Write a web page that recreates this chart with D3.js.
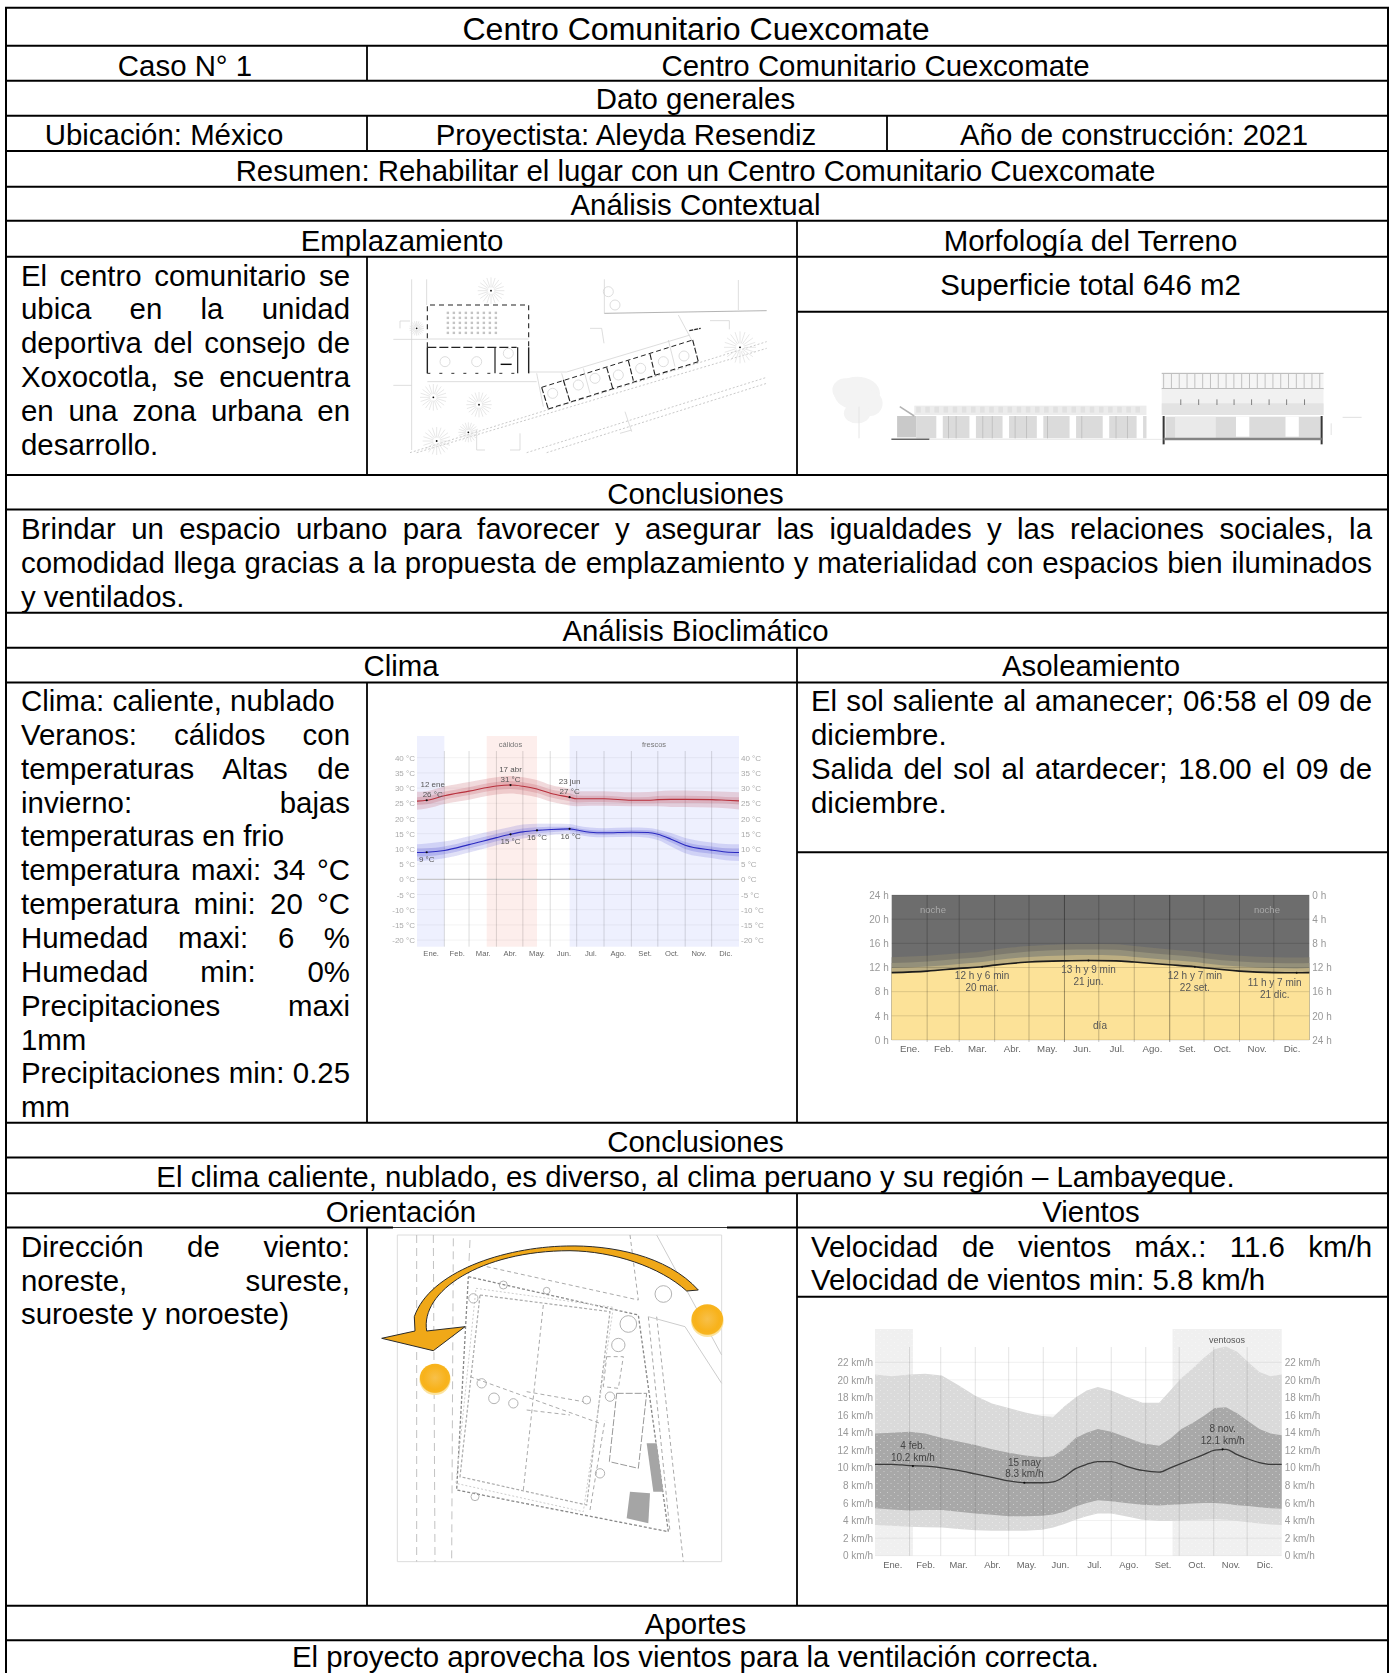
<!DOCTYPE html>
<html><head><meta charset="utf-8">
<script src="https://cdn.jsdelivr.net/npm/d3@7"></script>
<style>html,body{margin:0;padding:0;background:#fff}svg{display:block}text{font-family:"Liberation Sans",Arial,sans-serif}</style>
</head><body><svg id="c" width="1394" height="1673" viewBox="0 0 1394 1673"></svg>
<script>
// ---------- table content ----------
const rowRules=[7.7,45.7,80.7,115.7,151,186.7,220.7,256.7,475,509.5,612.7,647.7,682.5,1122.7,1157.5,1193.3,1227.5,1605.7,1640.3];
const centeredText=[
["Caso N° 1",185,75.6],["Centro Comunitario Cuexcomate",875.5,75.6],
["Dato generales",695.5,109.2],["Ubicación: México",164,145.4],["Proyectista: Aleyda Resendiz",626,145.4],["Año de construcción: 2021",1134,145.4],
["Resumen: Rehabilitar el lugar con un Centro Comunitario Cuexcomate",695.5,181],["Análisis Contextual",695.5,215],
["Emplazamiento",402,250.7],["Morfología del Terreno",1090.5,250.7],["Superficie total 646 m2",1090.5,295],
["Conclusiones",695.5,503.5],["Análisis Bioclimático",695.5,641],["Clima",401,675.7],["Asoleamiento",1091,675.7],
["Conclusiones",695.5,1152],["El clima caliente, nublado, es diverso, al clima peruano y su región – Lambayeque.",695.5,1186.7],
["Orientación",401,1221.7],["Vientos",1091,1221.7],["Aportes",695.5,1634],["El proyecto aprovecha los vientos para la ventilación correcta.",695.5,1666.5]];
const titleText="Centro Comunitario Cuexcomate";
const siteLines=[["El centro comunitario se",1],["ubica en la unidad",1],["deportiva del consejo de",1],["Xoxocotla, se encuentra",1],["en una zona urbana en",1],["desarrollo.",0]];
const conclusionLines=[["Brindar un espacio urbano para favorecer y asegurar las igualdades y las relaciones sociales, la",1],["comodidad llega gracias a la propuesta de emplazamiento y materialidad con espacios bien iluminados",1],["y ventilados.",0]];
const climateLines=[["Clima: caliente, nublado",0],["Veranos: cálidos con",1],["temperaturas Altas de",1],["invierno: bajas",1],["temperaturas en frio",0],["temperatura maxi: 34 °C",1],["temperatura mini: 20 °C",1],["Humedad maxi: 6 %",1],["Humedad min: 0%",1],["Precipitaciones maxi",1],["1mm",0],["Precipitaciones min: 0.25",1],["mm",0]];
const sunLines=[["El sol saliente al amanecer; 06:58 el 09 de",1],["diciembre.",0],["Salida del sol al atardecer; 18.00 el 09 de",1],["diciembre.",0]];
const windTextLines=[["Velocidad de vientos máx.: 11.6 km/h",1],["Velocidad de vientos min: 5.8 km/h",0]];
const directionLines=[["Dirección de viento:",1],["noreste, sureste,",1],["suroeste y noroeste)",0]];

// ---------- shared ----------
const months=["Ene.","Feb.","Mar.","Abr.","May.","Jun.","Jul.","Ago.","Set.","Oct.","Nov.","Dic."];
const monthStart=[0,31,59,90,120,151,181,212,243,273,304,334,365];
const monthMid=months.map((m,i)=>(monthStart[i]+monthStart[i+1])/2);

// ---------- temperature chart ----------
const tempDays=[0,11,31,59,90,106,120,136,152,173,181,196,212,243,262,273,288,304,334,350,365];
const highMean=[25.7,26,27.5,29,30.7,31,30.6,29.7,28.2,27,26.5,26.5,26.5,26,26,26.2,26.3,26.3,26.2,26,25.8];
const high90=[28.8,29,30.5,32,33.6,34,33.6,32.7,31,29.7,29,29,29,28.6,28.7,29,29.2,29.2,29,28.8,28.6];
const high75=[27,27.3,28.8,30.3,32,32.3,31.9,31,29.5,28.3,27.6,27.5,27.5,27,27.1,27.4,27.5,27.5,27.3,27.1,27];
const high25=[24.4,24.7,26.2,27.7,29.4,29.7,29.3,28.4,26.9,25.7,25.3,25.4,25.4,25,25,25.1,25.1,25.1,25,24.9,24.6];
const high10=[22.9,23.3,24.8,26.2,27.9,28.2,27.8,27,25.5,24.3,24,24.2,24.2,24,24,24,23.8,23.8,23.6,23.4,23];
const lowMean=[8.8,8.9,9.5,11.4,13.7,14.8,15.6,16.1,16.4,16.6,16.2,15.5,15.3,15.5,15.4,14.8,13.2,11.2,9.6,9,8.8];
const low90=[11.5,11.8,12.4,14.2,16.2,17.2,18,18.3,18.3,18.2,17.7,17,16.8,17,16.9,16.4,15.2,13.6,12.1,11.6,11.5];
const low75=[10.1,10.2,10.8,12.7,14.9,16,16.7,17.1,17.3,17.3,16.9,16.2,16,16.2,16.1,15.6,14.2,12.3,10.8,10.2,10.1];
const low25=[7.5,7.6,8.2,10.1,12.5,13.6,14.5,15.1,15.5,15.9,15.5,14.8,14.6,14.8,14.6,13.9,12.1,10,8.4,7.8,7.5];
const low10=[6,6.2,6.9,8.8,11.2,12.4,13.4,14.1,14.6,15,14.7,14,13.8,14,13.7,12.9,10.8,8.6,7,6.3,6];
const tempTicks=[40,35,30,25,20,15,10,5,0,-5,-10,-15,-20];
const coolSpans=[[0,31],[173,365]], warmSpans=[[79,136]];
const tempNotes=[[11,26,"12 ene","26 °C",6,-4],[106,31,"17 abr","31 °C",0,-4],[173,27,"23 jun","27 °C",0,-4],
                 [11,8.9,"9 °C",null,0,4],[106,14.8,"15 °C",null,0,4],[136,16.1,"16 °C",null,0,4],[173,16.6,"16 °C",null,1,4]];

// ---------- daylight chart ----------
const sunDays=[0,31,59,79,90,120,151,172,196,212,243,265,273,304,334,354,365];
const dayLength=[11.15,11.4,11.85,12.13,12.4,12.9,13.1,13.15,13.1,12.9,12.45,12.12,11.95,11.4,11.15,11.12,11.15];
const civilEnd=[11.9,12.15,12.6,12.9,13.2,13.75,14,14.05,14,13.75,13.25,12.9,12.7,12.15,11.9,11.85,11.9];
const nauticalEnd=[12.75,13,13.45,13.75,14.05,14.65,14.95,15,14.95,14.65,14.1,13.75,13.55,13,12.75,12.7,12.75];
const astroEnd=[13.7,13.95,14.35,14.65,15,15.55,15.85,15.9,15.85,15.55,15,14.65,14.45,13.95,13.7,13.65,13.7];
const hourTicks=[0,4,8,12,16,20,24];
const sunNotes=[[79,"12 h y 6 min","20 mar.",0,9,21],[172,"13 h y 9 min","21 jun.",0,9,21],[265,"12 h y 7 min","22 set.",0,9,21],[354,"11 h y 7 min","21 dic.",-22,10,22]];

// ---------- wind chart ----------
const windDays=[0,15,31,45,60,75,90,105,120,135,150,160,170,180,190,200,212,225,240,255,265,275,285,295,305,315,325,335,345,355,365];
const wind90=[20.6,20.4,20.6,20.7,20.5,19.4,18.2,17.3,16.8,16.3,15.9,15.8,17,18,18.8,19.2,18.8,18.1,17.4,17.4,18.8,20.2,21.3,22.5,23.5,23.8,23.2,22,20.9,20.4,20.6];
const wind75=[13.9,14,14.1,13.9,13.4,13,12.6,12.1,11.7,11.4,11.2,11.3,12.2,13.4,14,14.4,14.1,13.5,12.8,12.5,13.3,14.4,15.1,15.9,16.8,16.9,16.2,15.3,14.4,13.9,13.7];
const windMean=[10.4,10.4,10.25,10.2,10,9.7,9.3,8.9,8.5,8.3,8.3,8.4,9,9.9,10.4,10.7,10.7,10.2,9.7,9.5,10,10.5,11,11.5,12,12.1,11.5,11,10.6,10.4,10.4];
const wind25=[5.4,5.25,5.15,5.2,5.2,5,4.8,4.65,4.5,4.5,4.55,4.7,5,5.6,6,6.3,6.2,6,5.8,5.7,5.8,5.85,5.95,6,6,5.9,5.75,5.65,5.5,5.4,5.35];
const wind10=[3.5,3.4,3.3,3.25,3.2,3.05,2.9,2.85,2.85,2.85,2.95,3.2,3.6,4.1,4.5,4.8,4.8,4.5,4.1,3.95,3.95,4,4.05,4.1,4.15,4.1,3.95,3.8,3.65,3.55,3.5];
const windTicks=[0,2,4,6,8,10,12,14,16,18,20,22];
const windySpans=[[0,34],[267,365]];
const windNotes=[[34,10.2,"4 feb.","10.2 km/h"],[134,8.3,"15 may","8.3 km/h"],[312,12.1,"8 nov.","12.1 km/h"]];

// ---------- setup ----------
const svg=d3.select("#c");
const defs=svg.append("defs");
[["b5",.7],["b7",.7],["b3",.45]].forEach(([id,s])=>{
  defs.append("filter").attr("id",id).attr("x","-5%").attr("y","-5%").attr("width","110%").attr("height","110%")
    .append("feGaussianBlur").attr("stdDeviation",s);
});
const dots=defs.append("pattern").attr("id","dots").attr("width",7).attr("height",6).attr("patternUnits","userSpaceOnUse");
dots.append("circle").attr("cx",2).attr("cy",1.5).attr("r",.5).attr("fill","#fff").attr("opacity",.55);
dots.append("circle").attr("cx",5.5).attr("cy",4.5).attr("r",.5).attr("fill","#fff").attr("opacity",.55);
const sunGrad=defs.append("radialGradient").attr("id","sun").attr("cy","45%");
[[0,"#f7c04a"],[.75,"#f8b21a"],[.93,"#f7b521"],[1,"#fbe3a0"]].forEach(([o,c])=>sunGrad.append("stop").attr("offset",o).attr("stop-color",c));

const FS=29.4;
function textLine(g,s,x,y,anchor,fs){return g.append("text").attr("x",x).attr("y",y).attr("font-size",fs||FS).attr("fill","#000").attr("text-anchor",anchor||"start").text(s);}
function block(lines,x0,x1,y0,dy){
  lines.forEach(([s,just],i)=>{
    const t=textLine(svg,s,x0,y0+i*dy);
    if(just){
      const n=s.split(" ").length-1, w=t.node().getComputedTextLength();
      t.attr("word-spacing",((x1-x0-w)/n).toFixed(3));
    }
  });
}
function axisStyle(g,size,color){
  g.attr("font-family",null).attr("font-size",size);
  g.select(".domain").remove();
  g.selectAll(".tick line").remove();
  g.selectAll("text").attr("fill",color).attr("font-size",size);
  return g;
}

// ---------- temperature ----------
(function(){
  const g=svg.append("g").attr("filter","url(#b5)");
  const x=d3.scaleLinear().domain([0,365]).range([417,739]);
  const y=d3.scaleLinear().domain([0,40]).range([879.3,757.7]);
  const top=736,bot=946.7;
  coolSpans.forEach(s=>g.append("rect").attr("x",x(s[0])).attr("width",x(s[1])-x(s[0])).attr("y",top).attr("height",bot-top).attr("fill","#eef0fe"));
  warmSpans.forEach(s=>g.append("rect").attr("x",x(s[0])).attr("width",x(s[1])-x(s[0])).attr("y",top).attr("height",bot-top).attr("fill","#fdeeec"));
  tempTicks.forEach(t=>g.append("line").attr("x1",x(0)).attr("x2",x(365)).attr("y1",y(t)).attr("y2",y(t)).attr("stroke",t===0?"#bdbdbd":"#000").attr("stroke-opacity",t===0?1:.05));
  monthStart.slice(1,12).forEach(d=>g.append("line").attr("x1",x(d)).attr("x2",x(d)).attr("y1",751).attr("y2",bot).attr("stroke","#000").attr("stroke-opacity",.14));
  const band=(a,b,c,o)=>g.append("path").attr("fill",c).attr("fill-opacity",o).attr("d",d3.area().curve(d3.curveMonotoneX).x((d,i)=>x(tempDays[i])).y0((d,i)=>y(a[i])).y1((d,i)=>y(b[i]))(tempDays));
  const ln=(a,c)=>g.append("path").attr("fill","none").attr("stroke",c).attr("stroke-width",1.1).attr("d",d3.line().curve(d3.curveMonotoneX).x((d,i)=>x(tempDays[i])).y((d,i)=>y(a[i]))(tempDays));
  band(high10,high90,"#b9404f",.2);band(high25,high75,"#b9404f",.2);ln(highMean,"#b8303c");
  band(low10,low90,"#3a3ad0",.16);band(low25,low75,"#3a3ad0",.2);ln(lowMean,"#2a2ac0");
  const fmt=d=>d+" °C";
  axisStyle(g.append("g").attr("transform","translate(417,0)").call(d3.axisLeft(y).tickValues(tempTicks).tickFormat(fmt).tickSize(0).tickPadding(2)),8,"#aaa");
  axisStyle(g.append("g").attr("transform","translate(739,0)").call(d3.axisRight(y).tickValues(tempTicks).tickFormat(fmt).tickSize(0).tickPadding(2)),8,"#aaa");
  axisStyle(g.append("g").attr("transform","translate(0,947.5)").call(d3.axisBottom(x).tickValues(monthMid).tickFormat((d,i)=>months[i]).tickSize(0).tickPadding(3)),7.6,"#666");
  tempNotes.forEach(([d,v,a,b,dx,dy1])=>{
    g.append("circle").attr("cx",x(d)).attr("cy",y(v)).attr("r",1.1).attr("fill","#111");
    g.append("text").attr("x",x(d)+dx).attr("y",y(v)+dy1+(b?-9:6)).attr("text-anchor","middle").attr("font-size",8).attr("fill","#555").text(a);
    if(b) g.append("text").attr("x",x(d)+dx).attr("y",y(v)+dy1+1).attr("text-anchor","middle").attr("font-size",8).attr("fill","#555").text(b);
  });
  g.append("text").attr("x",x(106)).attr("y",747).attr("text-anchor","middle").attr("font-size",7.5).attr("fill","#777").text("cálidos");
  g.append("text").attr("x",654).attr("y",747).attr("text-anchor","middle").attr("font-size",7.5).attr("fill","#777").text("frescos");
})();

// ---------- daylight ----------
(function(){
  const g=svg.append("g").attr("filter","url(#b5)");
  const x=d3.scaleLinear().domain([0,365]).range([891.7,1309.3]);
  const y=d3.scaleLinear().domain([0,24]).range([1040,895]);
  g.append("rect").attr("x",x(0)).attr("y",y(24)).attr("width",x(365)-x(0)).attr("height",y(0)-y(24)).attr("fill","#6d6d6d");
  const up=(a,c)=>g.append("path").attr("fill",c).attr("d",d3.area().curve(d3.curveMonotoneX).x((d,i)=>x(sunDays[i])).y0(y(0)).y1((d,i)=>y(a[i]))(sunDays));
  up(astroEnd,"#7d7a6e");up(nauticalEnd,"#94907a");up(civilEnd,"#bcae82");up(dayLength,"#fce298");
  hourTicks.forEach(t=>g.append("line").attr("x1",x(0)).attr("x2",x(365)).attr("y1",y(t)).attr("y2",y(t)).attr("stroke","#000").attr("stroke-opacity",.13));
  monthStart.slice(1,12).forEach(d=>g.append("line").attr("x1",x(d)).attr("x2",x(d)).attr("y1",y(24)).attr("y2",y(0)+2).attr("stroke","#000").attr("stroke-opacity",d===151||d===243?.38:.22));
  g.append("path").attr("fill","none").attr("stroke","#1a1a1a").attr("stroke-width",1.6).attr("d",d3.line().curve(d3.curveMonotoneX).x((d,i)=>x(sunDays[i])).y((d,i)=>y(dayLength[i]))(sunDays));
  axisStyle(g.append("g").attr("transform",`translate(${x(0)},0)`).call(d3.axisLeft(y).tickValues(hourTicks).tickFormat(d=>d+" h").tickSize(0).tickPadding(3)),10,"#999");
  const yr=d3.scaleLinear().domain([24,0]).range([1040,895]);
  axisStyle(g.append("g").attr("transform",`translate(${x(365)},0)`).call(d3.axisRight(yr).tickValues(hourTicks).tickFormat(d=>d+" h").tickSize(0).tickPadding(3)),10,"#999");
  axisStyle(g.append("g").attr("transform","translate(0,1040)").call(d3.axisBottom(x).tickValues(monthMid).tickFormat((d,i)=>months[i]).tickSize(0).tickPadding(5)),9.7,"#666");
  const hIdx=d=>dayLength[sunDays.indexOf(d)];
  sunNotes.forEach(([d,a,b,dx,d1,d2])=>{
    g.append("circle").attr("cx",x(d)).attr("cy",y(hIdx(d))).attr("r",1).attr("fill","#111");
    g.append("text").attr("x",x(d)+dx).attr("y",y(hIdx(d))+d1+3.5).attr("text-anchor","middle").attr("font-size",10).attr("fill","#555").text(a);
    g.append("text").attr("x",x(d)+dx).attr("y",y(hIdx(d))+d2+3.5).attr("text-anchor","middle").attr("font-size",10).attr("fill","#555").text(b);
  });
  [[933,"noche"],[1267,"noche"]].forEach(([px,s])=>g.append("text").attr("x",px).attr("y",912.5).attr("text-anchor","middle").attr("font-size",9.5).attr("fill","#a9a9a9").text(s));
  g.append("text").attr("x",1100).attr("y",1029).attr("text-anchor","middle").attr("font-size",10).attr("fill","#555").text("día");
})();

// ---------- wind ----------
(function(){
  const g=svg.append("g").attr("filter","url(#b5)");
  const x=d3.scaleLinear().domain([0,365]).range([875,1281.7]);
  const y=d3.scaleLinear().domain([0,22]).range([1555.7,1362.3]);
  const top=1329,bot=1555.7;
  windySpans.forEach(s=>g.append("rect").attr("x",x(s[0])).attr("width",x(s[1])-x(s[0])).attr("y",top).attr("height",bot-top).attr("fill","#f0f0f0"));
  windySpans.forEach(s=>g.append("rect").attr("x",x(s[0])).attr("width",x(s[1])-x(s[0])).attr("y",top).attr("height",bot-top).attr("fill","url(#dots)"));
  windTicks.forEach(t=>g.append("line").attr("x1",x(0)).attr("x2",x(365)).attr("y1",y(t)).attr("y2",y(t)).attr("stroke","#000").attr("stroke-opacity",.06));
  const band=(a,b,c)=>{const p=d3.area().curve(d3.curveLinear).x((d,i)=>x(windDays[i])).y0((d,i)=>y(a[i])).y1((d,i)=>y(b[i]))(windDays);
    g.append("path").attr("fill",c).attr("d",p);g.append("path").attr("fill","url(#dots)").attr("d",p);};
  band(wind10,wind90,"#dadada");band(wind25,wind75,"#a8a8a8");
  monthStart.slice(1,12).forEach(d=>g.append("line").attr("x1",x(d)).attr("x2",x(d)).attr("y1",1347).attr("y2",bot).attr("stroke","#000").attr("stroke-opacity",.11));
  g.append("path").attr("fill","none").attr("stroke","#3a3a3a").attr("stroke-width",1.3).attr("d",d3.line().curve(d3.curveMonotoneX).x((d,i)=>x(windDays[i])).y((d,i)=>y(windMean[i]))(windDays));
  const fmt=d=>d+" km/h";
  axisStyle(g.append("g").attr("transform","translate(875,0)").call(d3.axisLeft(y).tickValues(windTicks).tickFormat(fmt).tickSize(0).tickPadding(2)),10,"#999");
  axisStyle(g.append("g").attr("transform","translate(1281.7,0)").call(d3.axisRight(y).tickValues(windTicks).tickFormat(fmt).tickSize(0).tickPadding(3)),10,"#999");
  axisStyle(g.append("g").attr("transform","translate(0,1557)").call(d3.axisBottom(x).tickValues(monthMid).tickFormat((d,i)=>months[i]).tickSize(0).tickPadding(4)),9.4,"#666");
  windNotes.forEach(([d,v,a,b])=>{
    g.append("circle").attr("cx",x(d)).attr("cy",y(v)).attr("r",1.1).attr("fill","#111");
    g.append("text").attr("x",x(d)).attr("y",y(v)-17).attr("text-anchor","middle").attr("font-size",10).attr("fill","#444").text(a);
    g.append("text").attr("x",x(d)).attr("y",y(v)-5.5).attr("text-anchor","middle").attr("font-size",10).attr("fill","#444").text(b);
  });
  g.append("text").attr("x",1227).attr("y",1343).attr("text-anchor","middle").attr("font-size",9).attr("fill","#555").text("ventosos");
})();

// ---------- site plan drawing ----------
(function(){
  const px=d3.scaleLinear().domain([0,3]).range([370,371]), py=d3.scaleLinear().domain([0,3]).range([260,261]);
  const g=svg.append("g").attr("filter","url(#b3)");
  const L=(pts,st,w,dash)=>g.append("path").attr("fill","none").attr("stroke",st).attr("stroke-width",w).attr("stroke-dasharray",dash||null).attr("d",d3.line().x(p=>px(p[0])).y(p=>py(p[1]))(pts));
  const thin=[[[125,58],[125,570]],[[170,58],[170,135]],[[70,238],[172,238]],[[70,376],[125,376]],[[703,58],[703,160]],[[1105,60],[1105,150]],[[90,183],[120,183]],[[90,183],[90,205]],[[320,510],[320,570],[345,570]],[[450,520],[450,570],[420,570]],[[660,205],[695,205],[702,250]],[[1020,182],[1078,182],[1078,208]],[[172,365],[500,365]],[[476,336],[590,336]],[[590,336],[960,225]],[[172,237],[476,237]],[[500,340],[520,440]],[[575,340],[600,425]],[[640,325],[660,400]],[[895,240],[915,320]],[[925,165],[965,240]],[[765,455],[785,515]],[[750,520],[785,510]]];
  thin.forEach(s=>L(s,"#d4d4d4",.8));
  L([[703,160],[1190,152]],"#aaa",.9);
  [[[120,578],[1190,245]],[[140,578],[1190,265]],[[470,578],[1190,352]],[[530,578],[1190,370]]].forEach(s=>L(s,"#bbb",.8,"2,2"));
  [[363,92,40],[190,412,40],[327,434,38],[295,517,30],[200,543,42],[1110,262,48],[140,205,22]].forEach(([cx,cy,r])=>{
    d3.range(20).forEach(k=>{const a=k/20*2*Math.PI;L([[cx+Math.cos(a)*r*.25,cy+Math.sin(a)*r*.25],[cx+Math.cos(a)*r,cy+Math.sin(a)*r]],"#e2e2e2",.8);});
    g.append("circle").attr("cx",px(cx)).attr("cy",py(cy)).attr("r",.9).attr("fill","#111");
  });
  d3.range(230,380,18).forEach(a=>d3.range(155,220,15).forEach(b=>g.append("rect").attr("x",px(a)).attr("y",py(b)).attr("width",2.4).attr("height",2.4).attr("fill","#c4c4c4")));
  L([[172,262],[172,135],[476,135],[476,262]],"#222",1.1,"5,4");
  L([[172,262],[440,262]],"#222",1.3,"9,3");
  L([[172,262],[172,340]],"#222",1.4);L([[375,262],[375,340]],"#222",1.2);L([[443,262],[443,340]],"#222",1.2);L([[476,262],[476,340]],"#222",1.4);
  L([[172,340],[443,340]],"#333",1,"3,9");L([[392,313],[425,313]],"#111",1.4);
  L([[515,382],[968,240]],"#222",1,"5,3");L([[535,447],[985,305]],"#222",1.1,"5,3");
  [[[515,382],[535,447]],[[580,360],[600,425]],[[710,322],[728,385]],[[775,302],[790,362]],[[840,282],[855,345]],[[968,240],[985,305]]].forEach(s=>L(s,"#222",1.1,"6,2"));
  L([[958,212],[992,205]],"#222",1.2,"4,1");
  [[548,400],[625,375],[675,355],[745,345],[812,325],[880,305],[942,288],[225,305],[320,305],[415,280],[715,95],[735,135]].forEach(([cx,cy])=>g.append("circle").attr("cx",px(cx)).attr("cy",py(cy)).attr("r",5).attr("fill","none").attr("stroke","#d4d4d4").attr("stroke-width",.8));
})();

// ---------- elevation drawing ----------
(function(){
  const px=d3.scaleLinear().domain([0,1560]).range([800,1394]), py=d3.scaleLinear().domain([0,3]).range([310,311]);
  const g=svg.append("g").attr("filter","url(#b7)").attr("opacity",.9);
  const R=(x0,y0,x1,y1,c,o)=>g.append("rect").attr("x",px(x0)).attr("y",py(y0)).attr("width",px(x1)-px(x0)).attr("height",py(y1)-py(y0)).attr("fill",c).attr("opacity",o||1);
  const L=(x0,y0,x1,y1,c,w)=>g.append("line").attr("x1",px(x0)).attr("y1",py(y0)).attr("x2",px(x1)).attr("y2",py(y1)).attr("stroke",c).attr("stroke-width",w);
  [[150,250,60,50],[120,240,35,35],[185,280,32,38],[150,310,35,30]].forEach(([cx,cy,rx,ry])=>g.append("ellipse").attr("cx",px(cx)).attr("cy",py(cy)).attr("rx",rx/2.63).attr("ry",ry/3).attr("fill","#f2f2f2"));
  L(155,290,155,385,"#e4e4e4",1);
  R(300,287,910,315,"#ebebeb");
  d3.range(305,905,24).forEach(a=>R(a,290,a+12,308,"#dedede"));
  R(305,318,910,385,"#d8d8d8");
  [358,445,532,622,708,795,884].forEach(a=>R(a,318,a+17,385,"#fff"));
  [390,410,480,505,565,595,650,740,830,860].forEach(a=>L(a,318,a,385,"#bbb",1));
  R(255,318,305,382,"#c4c4c4");L(262,290,300,318,"#aaa",1.5);
  L(240,388,340,388,"#555",1.5);
  L(340,388,950,388,"#ddd",.8);
  R(950,190,1375,235,"#f4f4f4");
  d3.range(955,1375,20.5).forEach(a=>L(a,192,a,235,"#bbb",1));
  L(950,190,1375,190,"#aaa",1);L(950,236,1375,236,"#999",1.3);
  R(950,236,1375,315,"#f0f0f0");R(950,280,1375,315,"#e0e0e0");
  [1000,1047,1095,1140,1186,1232,1278,1325].forEach(a=>L(a,268,a,285,"#666",.9));
  R(960,320,1370,385,"#d8d8d8");
  [1145,1275].forEach(a=>R(a,320,a+35,380,"#fff"));
  R(985,320,1092,385,"#e8e8e8");
  L(955,318,955,403,"#222",2);L(1370,318,1370,403,"#222",2);
  L(955,387,1370,387,"#777",2.4);
  L(1425,322,1475,322,"#ddd",1);L(1395,340,1395,375,"#ddd",1);
})();

// ---------- orientation drawing ----------
(function(){
  const px=d3.scaleLinear().domain([0,3]).range([370,371]), py=d3.scaleLinear().domain([0,3]).range([1220,1221]);
  const g=svg.append("g");
  const d=g.append("g").attr("filter","url(#b3)");
  const L=(pts,st,w,dash)=>d.append("path").attr("fill","none").attr("stroke",st).attr("stroke-width",w).attr("stroke-dasharray",dash||null).attr("d",d3.line().x(p=>px(p[0])).y(p=>py(p[1]))(pts));
  L([[82,45],[1055,45],[1055,1025],[82,1025],[82,45]],"#dcdcdc",1);
  [[[140,45],[140,1025]],[[190,45],[195,1025]],[[250,55],[245,1025]],[[300,60],[295,170]]].forEach(s=>L(s,"#bbb",.9,"8,5"));
  L([[295,170],[805,285],[895,935],[260,810],[295,170]],"#888",1.3,"3,2");
  L([[330,225],[720,275],[650,855],[270,770],[330,225]],"#aaa",1.2,"3,2");
  L([[318,205],[730,262],[640,875],[258,790],[318,205]],"#ccc",1,"2,2");
  [[[520,255],[460,810]],[[300,470],[690,610]],[[470,515],[640,545]],[[470,570],[600,585]],[[350,140],[805,240]],[[780,45],[805,240]],[[835,290],[900,935]],[[860,290],[940,1025]],[[710,410],[760,410],[745,505],[700,500],[710,410]],[[660,870],[705,600]]].forEach(s=>L(s,"#aaa",1,"4,3"));
  [[[835,290],[945,320],[1055,490]],[[860,45],[1055,405]]].forEach(s=>L(s,"#ccc",1));
  L([[740,520],[830,520],[805,745],[718,725],[740,520]],"#999",1,"7,2");
  [[775,312,25],[745,375,20],[880,222,25],[335,490,14],[372,535,16],[430,550,14],[315,830,12],[310,235,14],[690,760,14],[400,195,12],[530,212,10],[650,540,12],[720,530,14]].forEach(([cx,cy,r])=>d.append("circle").attr("cx",px(cx)).attr("cy",py(cy)).attr("r",r/3).attr("fill","none").attr("stroke","#aaa").attr("stroke-width",.9));
  [[[830,670],[860,670],[880,815],[850,815]],[[780,815],[840,820],[835,910],[770,895]]].forEach(p=>d.append("path").attr("fill","#a5a5a5").attr("d",d3.line().x(q=>px(q[0])).y(q=>py(q[1])).curve(d3.curveLinearClosed)(p)));
  const toPath=s=>s.replace(/(-?\d+),(-?\d+)/g,(m,a,b)=>px(+a).toFixed(1)+","+py(+b).toFixed(1));
  g.append("path").attr("fill","#f0a818").attr("stroke","#2a2a2a").attr("stroke-width",1).attr("stroke-linejoin","round")
   .attr("d",toPath("M985,210 C890,105 720,75 590,78 C400,82 180,155 133,290 L135,333 L35,355 L190,392 L285,320 L170,333 C150,215 330,92 600,92 C730,94 870,140 950,213 Z"));
  [[1012,302,49],[195,478,47]].forEach(([cx,cy,r])=>g.append("circle").attr("cx",px(cx)).attr("cy",py(cy)).attr("r",r/3).attr("fill","url(#sun)"));
})();

// ---------- rules ----------
const rule=(x1,y1,x2,y2,w)=>svg.append("line").attr("x1",x1).attr("y1",y1).attr("x2",x2).attr("y2",y2).attr("stroke","#000").attr("stroke-width",w||2);
rowRules.forEach(y=>{ if(y!==1227.5) rule(5,y,1389,y); });
rule(5,1227.5,393,1227.5);rule(727,1227.5,1389,1227.5);rule(393,1227.5,727,1227.5,.8);
rule(6,7,6,1673);rule(1388,7,1388,1673);
[[367,45.7,80.7],[367,115.7,151],[887,115.7,151],[797,220.7,475],[367,256.7,475],[367,682.5,1122.7],[797,647.7,1122.7],[367,1227.5,1605.7],[797,1193.3,1605.7]].forEach(([x,a,b])=>rule(x,a,x,b,1.8));
rule(797,311.7,1388,311.7);rule(797,852.3,1388,852.3);rule(797,1296.7,1388,1296.7);

// ---------- text ----------
textLine(svg,titleText,696,39.6,"middle",32.1);
centeredText.forEach(([s,x,y])=>textLine(svg,s,x,y,"middle"));
block(siteLines,21,350,285.6,33.85);
block(conclusionLines,21,1372,539.2,33.8);
block(climateLines,21,350,711,33.85);
block(sunLines,811,1372,711,34);
block(windTextLines,811,1372,1256.7,33.6);
block(directionLines,21,350,1256.7,33.8);
</script></body></html>
